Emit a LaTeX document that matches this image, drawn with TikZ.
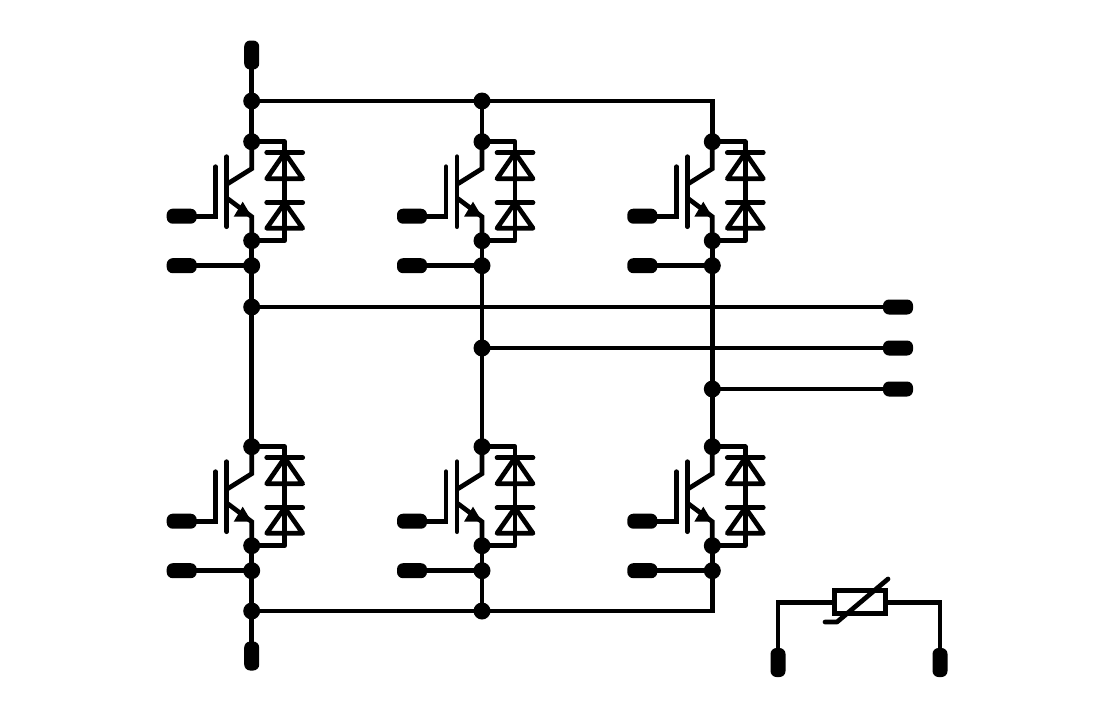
\documentclass[tikz,border=0pt]{standalone}
\begin{document}
\begin{tikzpicture}[x=1pt,y=-1pt,line join=miter,
  wire/.style={line width=4.7pt,line cap=round},
  dotnode/.style={circle,fill=black,inner sep=0pt,minimum size=17pt},
  pad/.style={rectangle,fill=black,rounded corners=6pt,inner sep=0pt,minimum width=30pt,minimum height=15pt},
  padv/.style={rectangle,fill=black,rounded corners=6pt,inner sep=0pt,minimum width=15pt,minimum height=29pt},
  igbt/.pic={
    \node[dotnode] (-c) at (0,0) {};
    \node[dotnode] (-e) at (0,99) {};
    \node[dotnode] (-k) at (0,124) {};
    \node[pad] (-g) at (-70,74.5) {};
    \node[pad] (-a) at (-70,124) {};
    \coordinate (-ci) at (0,27);
    \coordinate (-bc) at (-24,42);
    \coordinate (-be) at (-24,57);
    \coordinate (-ei) at (0,75);
    \coordinate (-gt) at (-36,25);
    \coordinate (-gb) at (-36,74.5);
    \coordinate (-bt) at (-25,15);
    \coordinate (-bb) at (-25,85);
    \coordinate (-dt) at (33,0);
    \coordinate (-db) at (33,99);
    \draw[wire] (-c.center) -- (-ci) -- (-bc);
    \draw[wire] (-be) -- (-ei) -- (-e.center);
    \draw[wire] (-bt) -- (-bb);
    \draw[wire] (-gt) -- (-gb) -- (-g.center);
    \draw[wire] (-a.center) -- (-k.center);
    \fill (-9,60) -- (-18,75) -- (0,75) -- cycle;
    \draw[wire,line join=round] (-c.center) -- (-dt) -- (-db) -- (-e.center);
    \draw[wire] (15,11) -- (51,11);
    \draw[wire,line join=round] (33,11) -- (15,37) -- (51,37) -- cycle;
    \draw[wire] (15,61) -- (51,61);
    \draw[wire,line join=round] (33,61) -- (15,86.5) -- (51,86.5) -- cycle;
    \draw[wire] (-e.center) -- (-k.center);
  }]
\useasboundingbox (0,0) rectangle (1110,715);
\fill[white] (0,0) rectangle (1110,715);

% six switch cells
\pic (ua) at (251.7,141.7) {igbt};
\pic (ub) at (482,141.7) {igbt};
\pic (uc) at (712.3,141.7) {igbt};
\pic (la) at (251.7,446.7) {igbt};
\pic (lb) at (482,446.7) {igbt};
\pic (lc) at (712.3,446.7) {igbt};

% DC+ rail
\node[padv] (pp) at (251.7,55) {};
\node[dotnode] (tb1) at (251.7,101) {};
\node[dotnode] (tb2) at (482,101) {};
\coordinate (tb3) at (712.3,101);
\draw[wire] (pp.center) -- (tb1.center) -- (ua-c.center);
\draw[wire] (tb1.center) -- (tb2.center) -- (ub-c.center);
\draw[wire] (tb2.center) -- (tb3) -- (uc-c.center);

% DC- rail
\node[padv] (pn) at (251.7,656) {};
\node[dotnode] (bb1) at (251.7,611) {};
\node[dotnode] (bb2) at (482,611) {};
\coordinate (bb3) at (712.3,611);
\draw[wire] (pn.center) -- (bb1.center) -- (la-k.center);
\draw[wire] (bb1.center) -- (bb2.center) -- (lb-k.center);
\draw[wire] (bb2.center) -- (bb3) -- (lc-k.center);

% phase outputs
\node[dotnode] (pa) at (251.7,307) {};
\node[dotnode] (pb) at (482,348) {};
\node[dotnode] (pc) at (712.3,389) {};
\node[pad] (oa) at (898,307) {};
\node[pad] (ob) at (898,348) {};
\node[pad] (oc) at (898,389) {};
\draw[wire] (ua-k.center) -- (pa.center) -- (la-c.center);
\draw[wire] (ub-k.center) -- (pb.center) -- (lb-c.center);
\draw[wire] (uc-k.center) -- (pc.center) -- (lc-c.center);
\draw[wire] (pa.center) -- (oa.center);
\draw[wire] (pb.center) -- (ob.center);
\draw[wire] (pc.center) -- (oc.center);

% thermistor
\node[draw,line width=4.7pt,fill=white,inner sep=0pt,minimum width=51pt,minimum height=23pt] (ntc) at (859.7,602.3) {};
\node[padv] (t1) at (778,662.5) {};
\node[padv] (t2) at (940,662.5) {};
\coordinate (t1c) at (778,602.3);
\coordinate (t2c) at (940,602.3);
\draw[wire,line cap=butt] (ntc.west) -- (t1c) -- (t1.center);
\draw[wire,line cap=butt] (ntc.east) -- (t2c) -- (t2.center);
\coordinate (ntca) at (888,579);
\coordinate (ntcb) at (837,622);
\coordinate (ntcc) at (825,622);
\draw[wire,line join=round] (ntca) -- (ntcb) -- (ntcc);
\end{tikzpicture}
\end{document}
